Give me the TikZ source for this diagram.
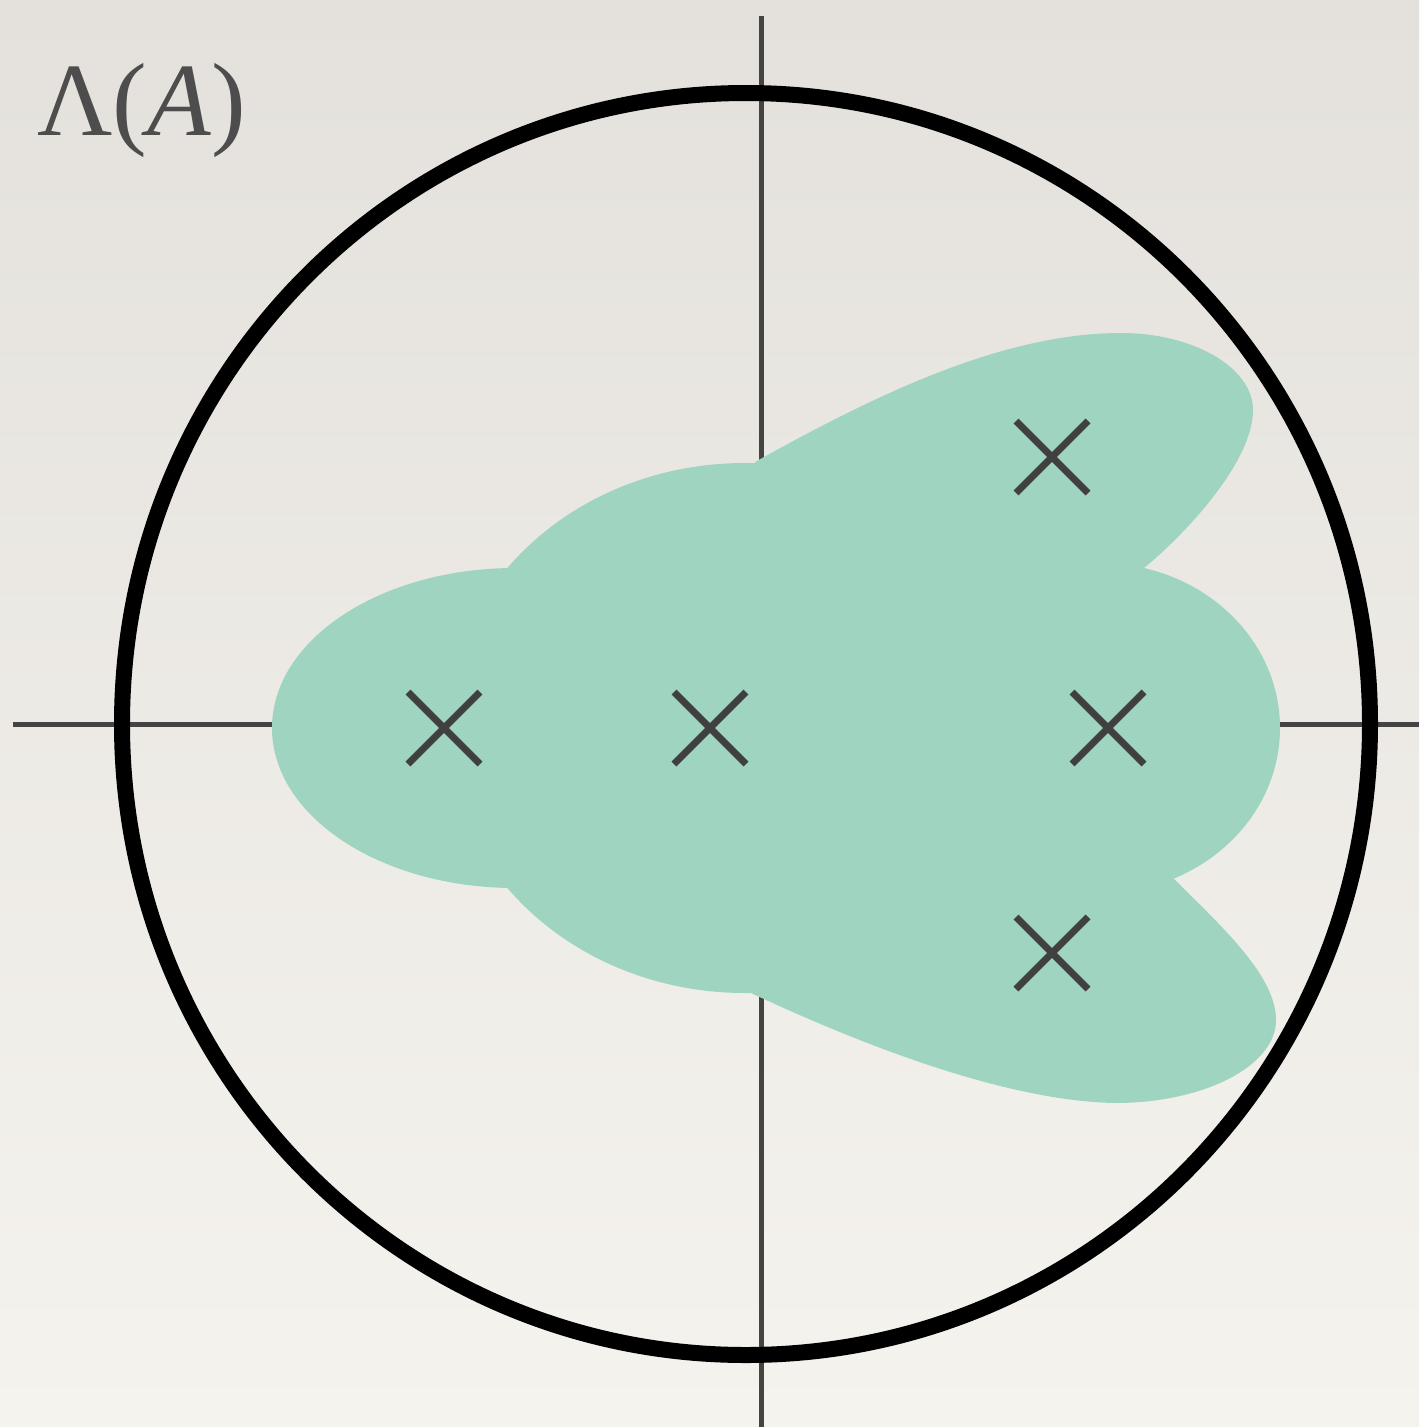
\documentclass[tikz,border=0pt]{standalone}
\usepackage{fontspec}
\usepackage{tikz}
\newfontfamily\labelfont{Liberation Serif}

\definecolor{papertop}{RGB}{228,225,220}
\definecolor{paperbot}{RGB}{245,243,238}
\definecolor{blobteal}{RGB}{159,212,193}
\definecolor{axisgrey}{RGB}{68,68,68}
\definecolor{crossgrey}{RGB}{64,64,64}
\definecolor{labelgrey}{RGB}{77,77,77}

\begin{document}
\begin{tikzpicture}[x=1pt,y=-1pt]
\tikzstyle{ax}= [line width=5pt, draw=axisgrey]
\tikzstyle{blob}= [fill=blobteal, draw=none]
\tikzstyle{crs}= [line width=7pt, draw=crossgrey]
\tikzstyle{unit}= [line width=16pt, draw=black]
\useasboundingbox (0,0) rectangle (1419,1427);
\shade[top color=papertop, bottom color=paperbot] (0,0) rectangle (1419,1427);
%axes
\coordinate (w) at (13,724);
\coordinate (e) at (1419,724);
\coordinate (n) at (761,16);
\coordinate (s) at (761,1427);
\draw[ax] (w) -- (e);
\draw[ax] (n) -- (s);
%blob: left, middle, right
\fill[blob] (515,728) ellipse [x radius=243, y radius=160];
\fill[blob] (745,728) ellipse [x radius=298, y radius=265];
\fill[blob] (1100,728) ellipse [x radius=180, y radius=165];
%upper lobe
\fill[blob] (755,462) .. controls (870,398) and (1000,333) .. (1121,333)
  .. controls (1194,333) and (1253,368) .. (1253,410)
  .. controls (1253,460) and (1190,530) .. (1144,568)
  -- (1050,640) -- (800,560) -- cycle;
%lower lobe
\fill[blob] (751,993) .. controls (860,1044) and (1005,1101) .. (1115,1103)
  .. controls (1204,1103) and (1276,1066) .. (1276,1020)
  .. controls (1276,975) and (1220,925) .. (1173,878)
  -- (1050,810) -- (800,900) -- cycle;
%eigenvalues
\foreach \x/\y in {444/728, 710/728, 1108/728, 1052/457, 1052/953}{
\draw[crs] (\x-36,\y-36) -- (\x+36,\y+36);
\draw[crs] (\x-36,\y+36) -- (\x+36,\y-36);
}
%unit circle
\coordinate (o) at (746,724);
\draw[unit] (o) ellipse [x radius=624, y radius=631];
%label
\node[text=labelgrey, anchor=base west, inner sep=0pt, font=\labelfont\fontsize{104}{120}\selectfont] (lbl) at (37,135) {Λ(\textit{A})};
\end{tikzpicture}
\end{document}
